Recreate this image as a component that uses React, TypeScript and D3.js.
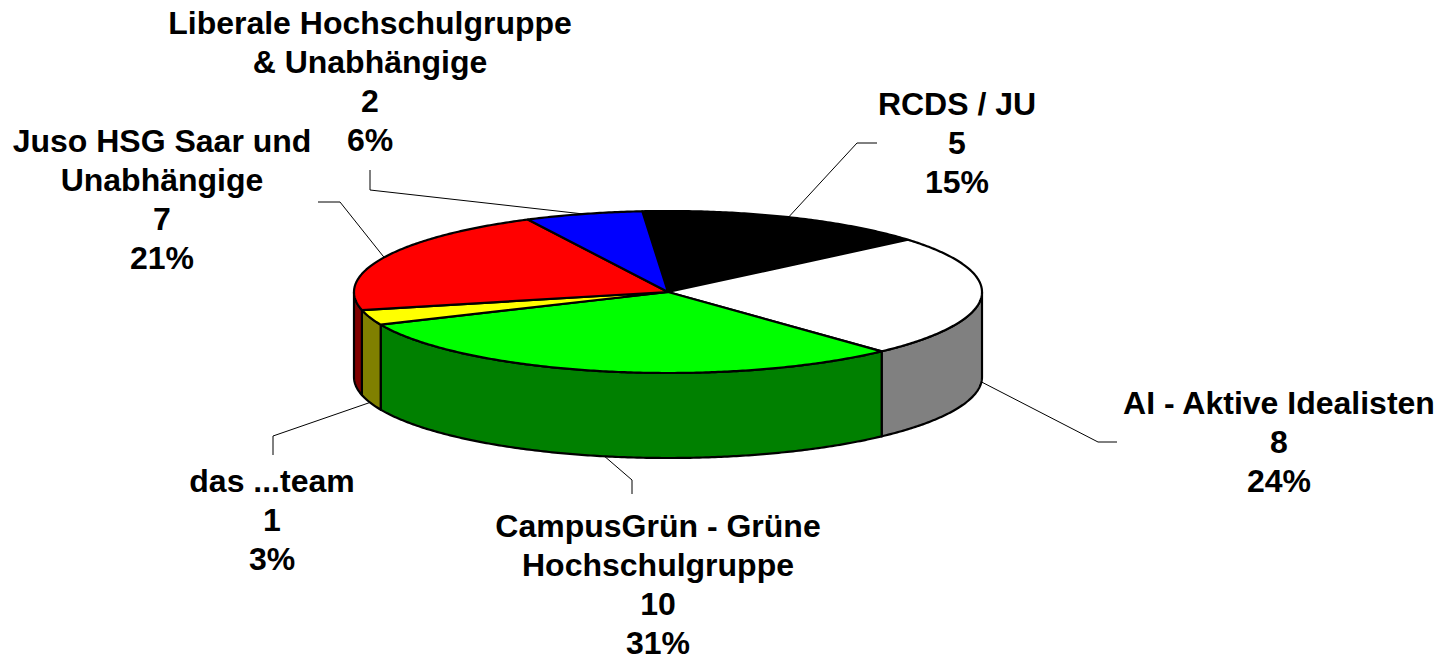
import React from 'react';
import * as d3 from 'd3';

// ---- Data ----
const categories = [
  'RCDS / JU',
  'AI - Aktive Idealisten',
  'CampusGrün - Grüne Hochschulgruppe',
  'das ...team',
  'Juso HSG Saar und Unabhängige',
  'Liberale Hochschulgruppe & Unabhängige',
];
const values = [5, 8, 10, 1, 7, 2];
const percentLabels = ['15%', '24%', '31%', '3%', '21%', '6%'];
const nameLines = [
  ['RCDS / JU'],
  ['AI - Aktive Idealisten'],
  ['CampusGrün - Grüne', 'Hochschulgruppe'],
  ['das ...team'],
  ['Juso HSG Saar und', 'Unabhängige'],
  ['Liberale Hochschulgruppe', '& Unabhängige'],
];
const topColors = ['#000000', '#FFFFFF', '#00FF00', '#FFFF00', '#FF0000', '#0000FF'];
const sideColors = ['#000000', '#808080', '#008000', '#808000', '#800000', '#000080'];

// ---- Layout (label placement) ----
const labelX = [957, 1279, 658, 272, 162, 370];
const labelY0 = [115, 414, 537, 492, 152, 34];
const elbowPts: [number, number][] = [[857, 143], [1098, 442], [632, 480], [273, 436], [340, 202], [370, 190]];
const endPts: [number, number][] = [[877, 143], [1117, 442], [632, 494], [273, 455], [318, 202], [370, 170]];

const W = 1445;
const H = 667;
const cx = 668;
const cy = 292;
const rx = 314;
const ry = 81;
const depth = 85;
const startDeg = -4.7;
const lineStep = 39;

function pt(a: number, dz = 0): [number, number] {
  return [cx + rx * Math.sin(a), cy - ry * Math.cos(a) + dz];
}

function arcPts(a0: number, a1: number, dz = 0): [number, number][] {
  const n = Math.max(2, Math.ceil(Math.abs(a1 - a0) / 0.01));
  return d3.range(n + 1).map((i) => pt(a0 + ((a1 - a0) * i) / n, dz));
}

export default function App() {
  const start = (startDeg * Math.PI) / 180;
  const pie = d3.pie<number>().sort(null).startAngle(start).endAngle(start + 2 * Math.PI);
  const arcs = pie(values);
  const line = d3.line<[number, number]>();
  const lineClosed = (p: [number, number][]) => line(p) + 'Z';

  const sides = arcs
    .map((a, i) => {
      const s = Math.max(a.startAngle, Math.PI / 2);
      const e = Math.min(a.endAngle, (3 * Math.PI) / 2);
      if (e <= s) return null;
      const top = arcPts(s, e, 0);
      const bottom = arcPts(e, s, depth);
      return { i, d: lineClosed([...top, ...bottom]) };
    })
    .filter(Boolean) as { i: number; d: string }[];

  const tops = arcs.map((a, i) => ({
    i,
    d: lineClosed([[cx, cy], ...arcPts(a.startAngle, a.endAngle, 0)]),
  }));

  const leaders = arcs.map((a, i) => {
    const mid = (a.startAngle + a.endAngle) / 2;
    const front = Math.cos(mid) < 0;
    const p0 = pt(mid, front ? depth : 0);
    return line([p0, elbowPts[i], endPts[i]]);
  });

  return (
    <svg
      width={W}
      height={H}
      style={{ position: 'fixed', left: 0, top: 0, display: 'block', background: '#fff' }}
      fontFamily='"Liberation Sans", Arial, sans-serif'
    >
      <g>
        {leaders.map((d, i) => (
          <path key={'l' + i} d={d || ''} fill="none" stroke="#000" strokeWidth={1} />
        ))}
      </g>
      <g>
        {sides.map((s) => (
          <path key={'s' + s.i} d={s.d} fill={sideColors[s.i]} stroke="#000" strokeWidth={2.2} strokeLinejoin="round" />
        ))}
      </g>
      <g>
        {tops.map((t) => (
          <path key={'t' + t.i} d={t.d} fill={topColors[t.i]} stroke="#000" strokeWidth={2.2} strokeLinejoin="round" />
        ))}
      </g>
      <g fontWeight="bold" fontSize={32} textAnchor="middle" fill="#000">
        {categories.map((c, i) => {
          const lines = [...nameLines[i], String(values[i]), percentLabels[i]];
          return (
            <text key={'t' + i} x={labelX[i]} y={labelY0[i]}>
              {lines.map((ln, j) => (
                <tspan key={j} x={labelX[i]} y={labelY0[i] + j * lineStep}>
                  {ln}
                </tspan>
              ))}
            </text>
          );
        })}
      </g>
    </svg>
  );
}
